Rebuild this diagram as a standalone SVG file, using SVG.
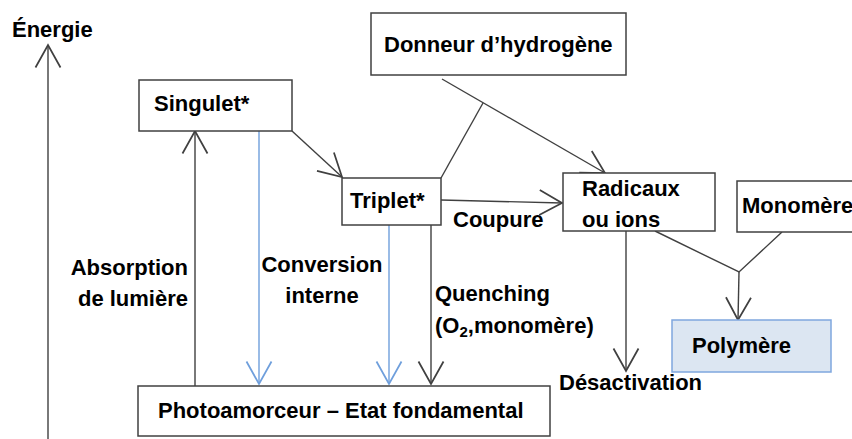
<svg xmlns="http://www.w3.org/2000/svg" width="852" height="439" viewBox="0 0 852 439">
<style>
.box{fill:#fff;stroke:#404040;stroke-width:1.5}
.poly{fill:#dce6f2;stroke:#7fa7de;stroke-width:1.5}
.t{font-family:"Liberation Sans",Arial,sans-serif;font-weight:bold;font-size:22px;fill:#000}
.ln{stroke:#404040;stroke-width:1.4;fill:none}
.bl{stroke:#6f9fdc;stroke-width:1.4;fill:none}
</style>
<defs>
<marker id="ah" markerUnits="userSpaceOnUse" markerWidth="30" markerHeight="30" viewBox="-20 -12 22 24" refX="0" refY="0" orient="auto" overflow="visible">
<path d="M-18,-10 L0,0 L-18,10" fill="none" stroke="#404040" stroke-width="1.4"/>
</marker>
<marker id="ahb" markerUnits="userSpaceOnUse" markerWidth="30" markerHeight="30" viewBox="-20 -12 22 24" refX="0" refY="0" orient="auto" overflow="visible">
<path d="M-18,-10 L0,0 L-18,10" fill="none" stroke="#6f9fdc" stroke-width="1.4"/>
</marker>
</defs>
<rect width="852" height="439" fill="#fff"/>
<g id="axis">
<line class="ln" x1="48" y1="439" x2="48" y2="45" marker-end="url(#ah)"/>
<text class="t" x="12" y="37">Énergie</text>
</g>
<g id="connectors">
<line class="ln" x1="195" y1="386" x2="195" y2="131" marker-end="url(#ah)"/>
<line class="bl" x1="259" y1="131" x2="259" y2="384" marker-end="url(#ahb)"/>
<line class="bl" x1="389" y1="225" x2="389" y2="384" marker-end="url(#ahb)"/>
<line class="ln" x1="431" y1="225" x2="431" y2="384" marker-end="url(#ah)"/>
<line class="ln" x1="292" y1="131" x2="342" y2="177" marker-end="url(#ah)"/>
<line class="ln" x1="442" y1="79" x2="605" y2="173" marker-end="url(#ah)"/>
<line class="ln" x1="441" y1="178" x2="483" y2="103"/>
<line class="ln" x1="441" y1="200" x2="562" y2="203" marker-end="url(#ah)"/>
<line class="ln" x1="626" y1="231" x2="626" y2="371" marker-end="url(#ah)"/>
<polyline class="ln" points="655,231 739,272 782,232"/>
<line class="ln" x1="739" y1="272" x2="738" y2="320" marker-end="url(#ah)"/>
<text class="t" x="188" y="275" text-anchor="end">Absorption</text>
<text class="t" x="188" y="306" text-anchor="end">de lumière</text>
<text class="t" x="322" y="272" text-anchor="middle">Conversion</text>
<text class="t" x="322" y="303" text-anchor="middle">interne</text>
<text class="t" x="435" y="301">Quenching</text>
<text class="t" x="435" y="333">(O<tspan font-size="15" dy="4">2</tspan><tspan dy="-4">,monomère)</tspan></text>
<text class="t" x="453" y="227">Coupure</text>
<text class="t" x="559" y="390">Désactivation</text>
</g>
<g id="donneur">
<rect class="box" x="371" y="13" width="255" height="62"/>
<text class="t" x="384" y="52">Donneur d’hydrogène</text>
</g>
<g id="singulet">
<rect class="box" x="139" y="80" width="153" height="51"/>
<text class="t" x="154" y="111">Singulet*</text>
</g>
<g id="triplet">
<rect class="box" x="342" y="178" width="99" height="47"/>
<text class="t" x="350" y="208">Triplet*</text>
</g>
<g id="radicaux">
<rect class="box" x="563" y="173" width="152" height="58"/>
<text class="t" x="582" y="196">Radicaux</text>
<text class="t" x="582" y="227">ou ions</text>
</g>
<g id="monomere">
<rect class="box" x="737" y="181" width="130" height="51"/>
<text class="t" x="742" y="213">Monomère</text>
</g>
<g id="polymere">
<rect class="poly" x="672" y="320" width="159" height="52"/>
<text class="t" x="692" y="353">Polymère</text>
</g>
<g id="photoamorceur">
<rect class="box" x="138" y="386" width="412" height="50"/>
<text class="t" x="158" y="418">Photoamorceur – Etat fondamental</text>
</g>
</svg>
